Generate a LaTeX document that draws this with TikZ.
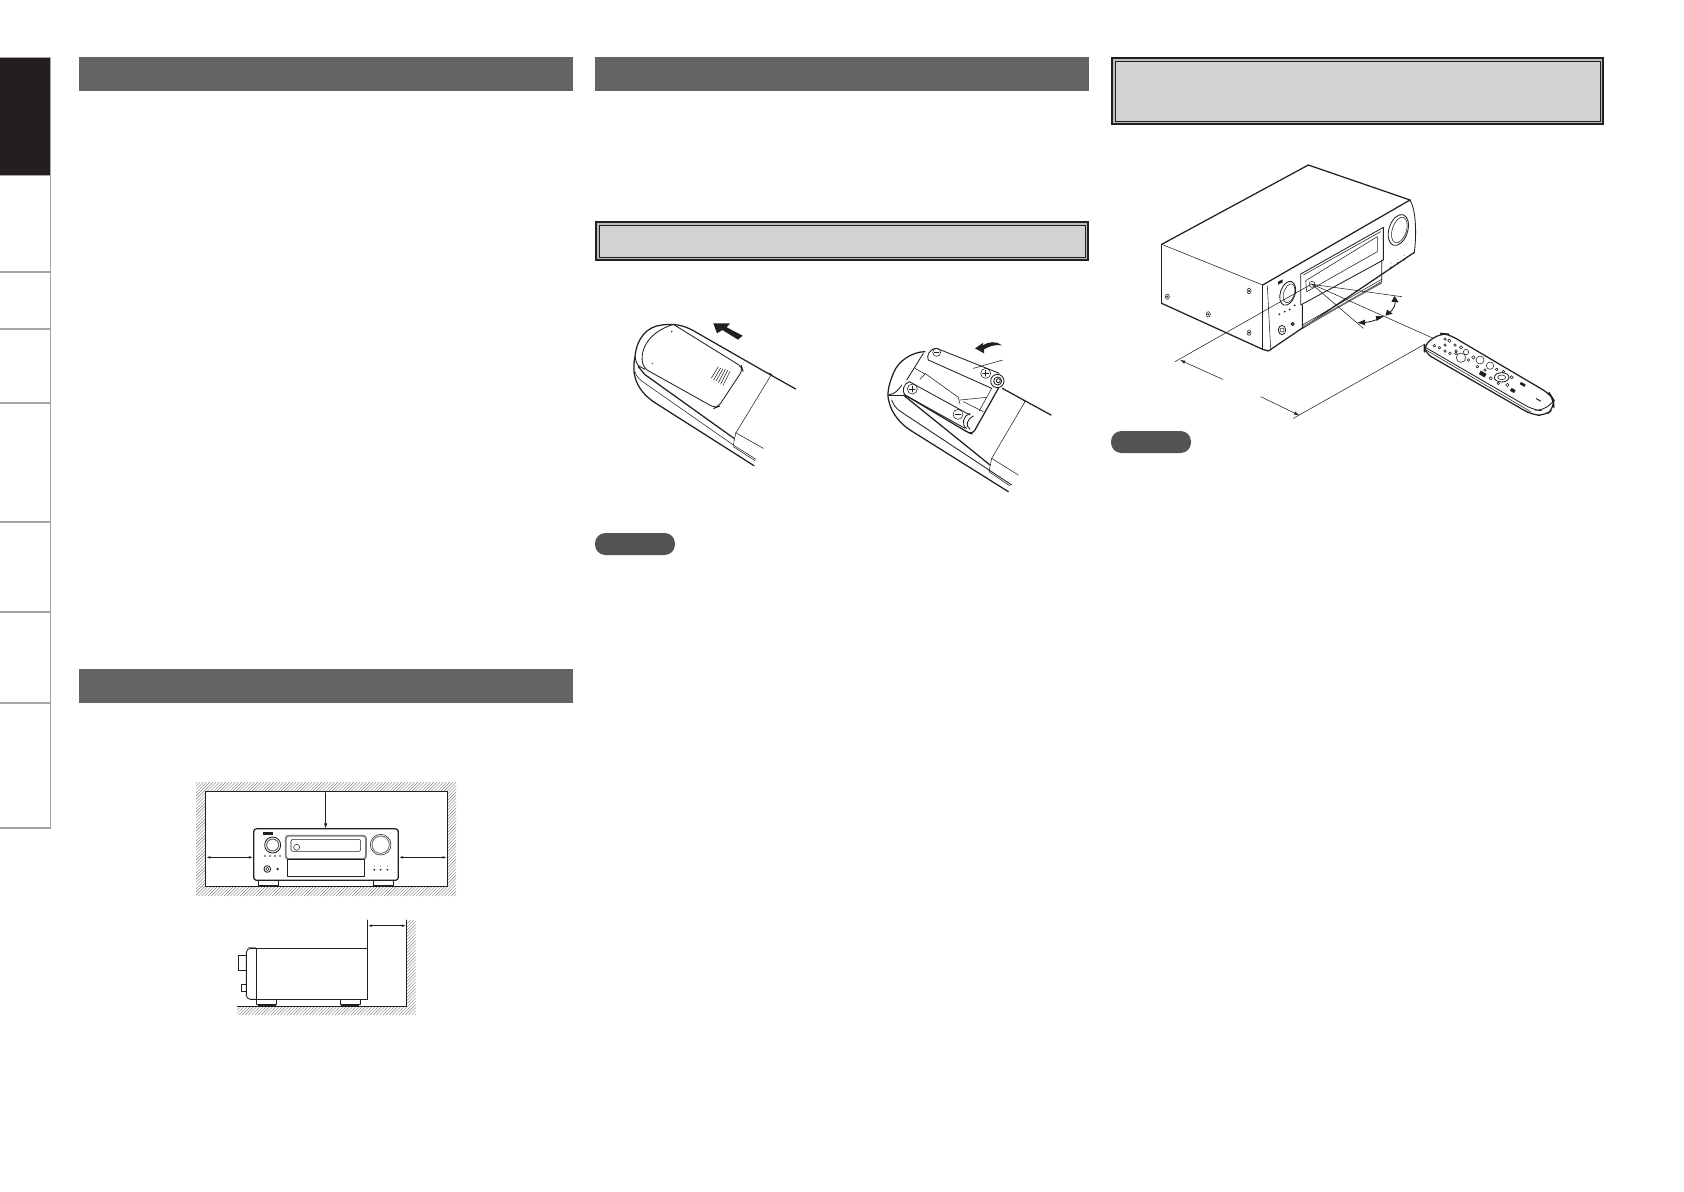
\documentclass[tikz,border=0pt]{standalone}
\usetikzlibrary{arrows.meta}
\definecolor{barcol}{HTML}{656363}
\definecolor{framefill}{HTML}{D2D2D2}
\definecolor{darkline}{HTML}{231F20}
\definecolor{tabline}{HTML}{A5A5A5}
\definecolor{pillcol}{HTML}{545252}
\tikzset{
  bar/.style={fill=barcol,draw=none},
  pill/.style={fill=pillcol,draw=none,rounded corners=5.2pt},
  thickln/.style={draw=darkline,line width=0.62pt,line join=round,line cap=round},
  midln/.style={draw=darkline,line width=0.42pt,line join=round,line cap=round},
  thinln/.style={draw=darkline,line width=0.27pt,line join=round,line cap=round},
  hatchln/.style={draw=black!50,line width=0.2pt},
  dimtip/.style={-{Latex[length=2.6pt,width=1.7pt]}},
  dimtips/.style={{Latex[length=2.2pt,width=1.3pt]}-{Latex[length=2.2pt,width=1.3pt]}},
  blk/.style={fill=darkline,draw=none},
}
\newcommand{\dblframe}[4]{%
  \fill[darkline] (#1,#2) rectangle (#3,#4);
  \fill[framefill!90!black] (#1+2,#2+2) rectangle (#3-2,#4-2);
  \draw[darkline,line width=0.3pt,fill=framefill] (#1+4,#2+4) rectangle (#3-4,#4-4);}
\begin{document}
\begin{tikzpicture}[x=0.5pt,y=-0.5pt]
\useasboundingbox[fill=white] (0,0) rectangle (1684,1191);
% side tabs
\fill[darkline] (0,57.5) rectangle (50.5,175.5);
\draw[tabline,line width=0.55pt] (0,57.5) -- (50.5,57.5) -- (50.5,828) -- (0,828);
\foreach \yy in {175.5,272,329,403,522,612,703}{\draw[tabline,line width=0.55pt] (0,\yy) -- (50.5,\yy);}
% header bars
\fill[bar] (78.5,57) rectangle (572.5,90.5);
\fill[bar] (78.5,669) rectangle (572.5,703);
\fill[bar] (594.5,57) rectangle (1089,90.5);
\dblframe{595}{221}{1089}{261}
\dblframe{1111}{57}{1604}{125}
\fill[pill] (595,533) rectangle (675,555);
\fill[pill] (1111,431) rectangle (1191,453);

% ---- clearance figure: front
\begin{scope}
\clip (196,782.7) rectangle (456,896);
\foreach \i in {0,1,...,120}{\draw[hatchln] (80+\i*3.2,896) -- (80+\i*3.2+114,782);}
\end{scope}
\draw[midln,fill=white] (205.7,791.7) rectangle (447.3,886.3);
\begin{scope}[shift={(180,770)},scale=1/3]
\draw[thickln,rounded corners=1.5pt] (221,176) rectangle (655,331);
\draw[thickln] (236,331) rectangle (296,348);
\draw[thickln] (580,331) rectangle (640,348);
\draw[line width=0.9pt,draw=black!50,rounded corners=1.5pt] (317,197) rectangle (558,267);
\draw[thinln,rounded corners=1pt] (333,208) rectangle (542,244);
\draw[thinln] (350,232) circle (9);
\draw[midln] (322,268) rectangle (554,320);
\draw[midln] (278,225) circle (24);
\draw[line width=0.5pt,draw=black!60] (278,225) circle (18);
\draw[thinln] (602,224) circle (31);
\draw[line width=0.5pt,draw=black!50] (602,224) circle (26);
\fill[blk] (250,187) rectangle (279,194);
\foreach \xx in {255,270,285,300}{\fill[darkline] (\xx,258) circle (2.5);}
\draw[midln] (262,297) circle (10);
\draw[thinln] (262,297) circle (5);
\fill[darkline] (293,297) circle (4);
\foreach \xx in {583,602,622}{\fill[darkline] (\xx,299) circle (3);\fill[black!50] (\xx,288) circle (1.8);}
\draw[midln,dimtip] (437,68) -- (437,176);
\draw[midln,dimtips] (78,262) -- (220,262);
\draw[midln,dimtips] (656,262) -- (801,262);
\end{scope}

% ---- clearance figure: side
\begin{scope}
\clip (237.3,1006.7) -- (406.7,1006.7) -- (406.7,920) -- (415.7,920) -- (415.7,1015) -- (237.3,1015) -- cycle;
\foreach \i in {0,1,...,62}{\draw[hatchln] (225+\i*3.2,1016) -- (225+\i*3.2+96,920);}
\end{scope}
\draw[midln] (237.3,1006.7) -- (406.7,1006.7) -- (406.7,920);
\begin{scope}[shift={(180,770)},scale=1/3]
\draw[thickln] (230,535) rectangle (562,688);
\draw[midln] (562,535) -- (562,450);
\draw[midln,rounded corners=2pt] (230,535) -- (199,535) -- (199,688) -- (230,688);
\draw[line width=0.7pt,draw=black!45] (205,533) -- (228,533);
\draw[line width=0.6pt,draw=darkline] (230,535) -- (230,688);
\draw[midln] (199,557) -- (176,557) -- (176,602) -- (199,602);
\draw[midln] (199,642) -- (184,642) -- (184,664) -- (199,664);
\draw[midln] (230,688) rectangle (290,703);
\draw[midln] (481,688) rectangle (541,703);
\fill[darkline] (233,703) rectangle (287,708);
\fill[darkline] (484,703) rectangle (538,708);
\draw[midln,dimtips] (563,467) -- (679,467);
\end{scope}

% ---- remote back, cover on
\begin{scope}[shift={(590,300)},scale=1/3]
\draw[thickln] (617,267) -- (530,218) -- (310,92) .. controls (280,75) and (250,70) .. (215,75) .. controls (170,80) and (140,115) .. (135,170) .. controls (125,220) and (135,265) .. (190,305) -- (492,497);
\draw[thinln] (530,218) -- (545,222) -- (437,400) -- (430,435);
\draw[thinln] (437,398) -- (520,445);
\draw[thickln] (145,200) -- (165,224) -- (432,415);
\draw[midln] (135,170) .. controls (138,185) and (140,195) .. (150,200) -- (165,208);
\draw[thinln] (135,215) .. controls (140,232) and (150,240) .. (165,250) -- (430,435) -- (498,478);
\draw[thinln] (430,440) -- (495,482);
% cover
\draw[midln,rounded corners=2.5pt] (250,73) -- (455,200) -- (458,210) -- (385,320) -- (375,324) -- (162,205) .. controls (150,160) and (165,100) .. (250,73);
\fill[darkline] (245,95) circle (2.5);
\fill[black!60] (187,190) circle (2.5);
\foreach \a/\b/\c/\d in {385/200/364/234, 392/204/371/239, 399/206/378/243, 406/208/385/248, 413/211/392/252, 420/214/399/256}{\draw[thinln] (\a,\b) -- (\c,\d);}
\fill[blk] (370,70) -- (420,70) -- (410,82) -- (458,107) -- (444,119) -- (397,90) -- (381,100) -- cycle;
\end{scope}

% ---- remote back, batteries
\begin{scope}[shift={(870,320)},scale=1/3]
\draw[thickln] (543,285) -- (457,238) -- (397,205);
\draw[thinln] (457,238) -- (465,245) -- (365,415) -- (357,455);
\draw[thinln] (365,415) -- (445,465);
\draw[thickln] (165,95) .. controls (130,95) and (85,120) .. (70,160) .. controls (55,195) and (50,225) .. (57,245) .. controls (65,280) and (90,310) .. (120,330) -- (415,515);
\draw[midln] (95,195) .. controls (85,210) and (75,222) .. (55,225);
\draw[thickln] (100,225) -- (360,435);
\draw[midln] (57,225) -- (100,225);
\draw[midln] (65,240) .. controls (75,265) and (85,270) .. (100,280) -- (357,450) -- (425,495);
\draw[thinln] (357,455) -- (420,498);
% compartment
\draw[midln,rounded corners=2pt] (160,100) -- (110,180);
\draw[thickln,rounded corners=2pt] (385,205) -- (308,342) -- (295,338) -- (105,225);
\draw[thinln] (135,145) -- (165,162) -- (150,178);
\draw[thinln] (165,160) -- (265,232) -- (270,252);
\draw[thinln] (270,240) -- (350,232) -- (365,205);
\draw[thinln] (280,245) -- (340,275);
\draw[thinln] (328,272) -- (350,232);
% battery 1
\draw[midln] (200,85) -- (388,160);
\draw[midln] (175,120) -- (365,205);
\draw[midln] (200,85) .. controls (178,85) and (168,110) .. (175,120);
\draw[midln,fill=white] (382,183) circle (20);
\draw[midln] (383,183) circle (12);
\draw[midln] (385,182) circle (6);
\draw[thinln] (200,97) circle (12);
\draw[thinln] (193,97) -- (207,97);
\draw[thinln] (347,160) circle (15);
\draw[thinln] (338,160) -- (356,160) (347,151) -- (347,169);
\draw[thinln] (310,145) -- (398,120);
% battery 2
\draw[midln] (118,185) -- (300,285);
\draw[midln] (105,225) -- (285,325);
\draw[midln] (118,185) .. controls (100,190) and (95,215) .. (105,225);
\draw[midln] (300,280) .. controls (280,285) and (272,315) .. (290,325);
\draw[midln] (310,288) .. controls (292,295) and (285,318) .. (300,328);
\draw[thinln] (127,207) circle (15);
\draw[thinln] (118,207) -- (136,207) (127,198) -- (127,216);
\draw[thinln] (264,283) circle (15);
\draw[thinln] (255,283) -- (273,283);
\fill[blk] (315,85) -- (340,68) -- (338,76) .. controls (355,65) and (380,62) .. (396,76) .. controls (375,72) and (355,80) .. (342,88) -- (342,100) -- cycle;
\end{scope}

% ---- receiver unit
\begin{scope}[shift={(1140,150)},scale=1/3]
\draw[thickln] (65,283) -- (505,45) -- (810,150);
\draw[thickln] (368,405) -- (810,150);
\draw[thinln] (65,283) -- (368,405);
\draw[midln] (65,283) -- (65,460);
\draw[thickln] (65,460) -- (368,598) -- (385,603) -- (823,307);
\draw[midln] (368,405) -- (368,598);
\draw[thinln] (382,408) -- (392,598);
\draw[midln] (810,150) .. controls (828,180) and (830,250) .. (823,307);
% front panel
\draw[midln] (482,372) -- (730,232) -- (730,330) -- (482,465) -- cycle;
\draw[thinln] (490,375) -- (722,245);
\draw[thinln] (497,392) -- (712,260) -- (712,305) -- (500,425) -- cycle;
\draw[midln] (487,465) -- (487,535) -- (725,395) -- (725,330);
\draw[thinln] (487,525) -- (725,388);
\draw[line width=0.8pt,draw=black!55] (490,530) -- (725,398);
\draw[midln,rotate around={-18:(775,240)}] (775,240) ellipse (28 and 48);
\draw[thinln,rotate around={-18:(778,240)}] (778,240) ellipse (21 and 40);
\begin{scope}
\clip (380,395) rectangle (470,465);
\draw[midln,rotate around={-18:(443,430)}] (443,430) ellipse (22 and 37);
\draw[thinln,rotate around={-18:(447,430)}] (447,430) ellipse (16 and 29);
\end{scope}
\fill[blk] (414,395) -- (428,388) -- (428,397) -- (414,404) -- cycle;
\foreach \xx/\yy in {418/493,434/485,449/478,464/466,753/352,773/340,793/328}{\fill[darkline] (\xx,\yy) circle (3);}
\foreach \xx/\yy in {753/339,773/328,793/316}{\fill[black!50] (\xx,\yy) circle (1.6);}
\draw[midln] (426,540) ellipse (11 and 14);
\draw[thinln] (426,540) circle (6);
\draw[midln,fill=black!60] (458,522) circle (5);
\foreach \xx/\yy in {82/440,205/493,327/423,327/548}{\draw[thinln] (\xx,\yy) ellipse (6 and 8);\draw[thinln] (\xx,\yy) circle (2.5);}
\draw[thinln,fill=white] (516,403) circle (9);
\draw[thinln] (516,403) -- (785,440);
\draw[thinln] (516,403) -- (670,535);
\end{scope}

\begin{scope}[shift={(1170,270)},scale=1/3]
\draw[thinln] (425,42) -- (790,205);
\draw[thinln] (15,275) -- (425,42);
\draw[thinln] (370,445) -- (765,222);
\draw[thinln,dimtip] (158,328) -- (30,270);
\draw[thinln,dimtip] (272,380) -- (388,436);
% angle arcs
\draw[midln] (672,82) .. controls (682,100) and (672,120) .. (652,132);
\draw[midln] (640,138) .. controls (620,152) and (595,158) .. (568,158);
\fill[blk] (674,78) -- (686,97) -- (664,95) -- cycle;
\fill[blk] (646,137) -- (651,119) -- (668,131) -- cycle;
\fill[blk] (640,139) -- (620,153) -- (617,138) -- cycle;
\fill[blk] (563,158) -- (585,149) -- (585,166) -- cycle;
% remote
\draw[thickln,fill=white,rounded corners=4pt] (763,222) -- (763,248) -- (1085,434) -- (1125,437) -- (1152,415) -- (1150,388) -- (1140,372) -- (835,192) -- (812,190) -- cycle;
\draw[midln,rounded corners=4pt] (766,232) -- (1090,420) -- (1120,422) -- (1148,396);
\draw[thinln] (768,240) -- (1082,425);
\foreach \xx/\yy/\rr in {825/207/4,838/212/5,793/227/4,808/233/4,825/225/4,855/225/4,873/232/5,858/243/4,825/243/4,840/250/4,858/250/4,888/246/8,873/263/14,910/262/5,930/270/12,960/287/11,895/270/4,922/290/4,980/298/4,1000/305/4,962/325/5,1025/322/5,1012/345/5,985/340/4,945/300/4}{\draw[thinln] (\xx,\yy) circle (\rr);}
\draw[midln] (995,322) ellipse (22 and 14);
\draw[thinln] (995,322) ellipse (12 and 7);
\fill[blk,rotate around={-30:(938,312)}] (928,306) rectangle (948,318);
\fill[blk,rotate around={-30:(1028,360)}] (1022,356) rectangle (1036,366);
\fill[blk,rotate around={-30:(1058,343)}] (1050,339) rectangle (1066,347);
\fill[blk,rotate around={-30:(1105,390)}] (1097,388) rectangle (1113,391);
\end{scope}
\end{tikzpicture}
\end{document}
